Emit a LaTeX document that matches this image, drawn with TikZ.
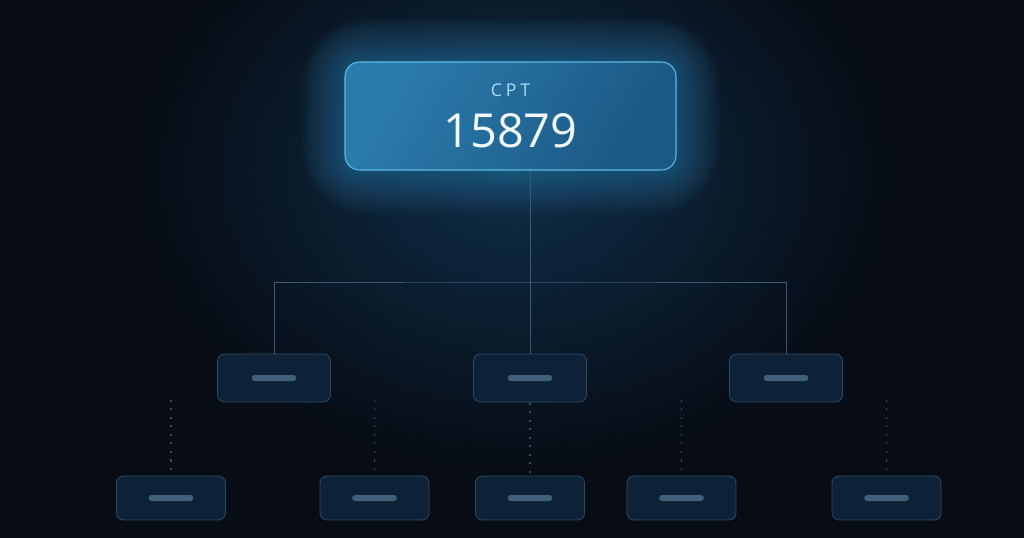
\documentclass[tikz,border=0pt]{standalone}
\usepackage{fontspec}
\setmainfont{Open Sans}
\usepackage{xcolor}
\usetikzlibrary{positioning}

\definecolor{bgnavy}{HTML}{070C15}
\definecolor{bgglow}{HTML}{0F2E48}
\definecolor{glowcyan}{HTML}{3FA6E0}
\definecolor{rootedge}{HTML}{5DB9E6}
\definecolor{rootlight}{HTML}{2B7CAD}
\definecolor{rootdark}{HTML}{1B5884}
\definecolor{boxfill}{HTML}{0D2236}
\definecolor{boxedge}{HTML}{2A4B66}
\definecolor{barcol}{HTML}{41607B}
\definecolor{linkcol}{HTML}{385A77}
\definecolor{dotcol}{HTML}{344B62}

\tikzset{
  rootbox/.style={draw=rootedge, line width=0.9pt, rounded corners=12.5pt,
    shading=axis, left color=rootlight, right color=rootdark, shading angle=60,
    minimum width=9.93cm, minimum height=3.24cm, align=center, inner sep=0pt},
  chipbar/.style={path picture={
    \fill[barcol, rounded corners=2.5pt]
      ([xshift=-0.67cm,yshift=-0.09cm]path picture bounding box.center)
      rectangle ([xshift=0.67cm,yshift=0.09cm]path picture bounding box.center);}},
  midbox/.style={draw=boxedge, fill=boxfill, line width=0.7pt, rounded corners=6pt,
    minimum width=3.39cm, minimum height=1.44cm, chipbar},
  leafbox/.style={draw=boxedge, fill=boxfill, line width=0.7pt, rounded corners=6pt,
    minimum width=3.27cm, minimum height=1.32cm, chipbar},
  link/.style={draw=linkcol, line width=0.7pt},
  dotlink/.style={draw=dotcol, line width=0.9pt, dash pattern=on 1.8pt off 5.5pt}
}

\begin{document}
\begin{tikzpicture}[x=0.03cm,y=-0.03cm,node distance=3cm,on grid]
  % background and glow
  \fill[bgnavy] (0,0) rectangle (1024,538);
  \useasboundingbox (0,0) rectangle (1024,538);
  \shade[inner color=bgglow, outer color=bgnavy] (515,170) ellipse (380 and 300);
  \foreach \g in {1,...,20}
    \fill[glowcyan, opacity=0.022, rounded corners=12.5pt+\g*2.2pt]
      (345-\g*2.2,62-\g*2.2) rectangle (676+\g*2.2,170+\g*2.2);

  % root
  \node[rootbox] (root) at (510.5,116)
    {{\color{rootedge!50!white}\fontsize{15}{18}\selectfont\addfontfeature{LetterSpace=22}CPT}\\[13pt]
     {\color{white!92!rootedge}\fontsize{40}{44}\selectfont 15879}};

  % second row
  \node[midbox] (midC) at (530,378) {};
  \node[midbox] (midL) [left=7.68cm of midC] {};
  \node[midbox] (midR) [right=7.68cm of midC] {};

  % third row
  \node[leafbox] (leafC) [below=3.6cm of midC] {};
  \node[leafbox] (leafA) [left=10.77cm of leafC] {};
  \node[leafbox] (leafB) [left=4.665cm of leafC] {};
  \node[leafbox] (leafD) [right=4.545cm of leafC] {};
  \node[leafbox] (leafE) [right=10.695cm of leafC] {};

  % solid tree
  \coordinate (bus) at (530,282);
  \draw[link] (root.south -| bus) -- (bus);
  \draw[link] (midL.north) |- (bus) -| (midR.north);
  \draw[link] (bus) -- (midC.north);

  % dotted drops
  \foreach \n in {leafA,leafB,leafD,leafE}
    \coordinate (top\n) at ([yshift=2.28cm]\n.north);
  \draw[dotlink] (midC.south) -- (leafC.north);
  \foreach \n in {leafA,leafB,leafD,leafE}
    \draw[dotlink] (top\n) -- (\n.north);
\end{tikzpicture}
\end{document}
